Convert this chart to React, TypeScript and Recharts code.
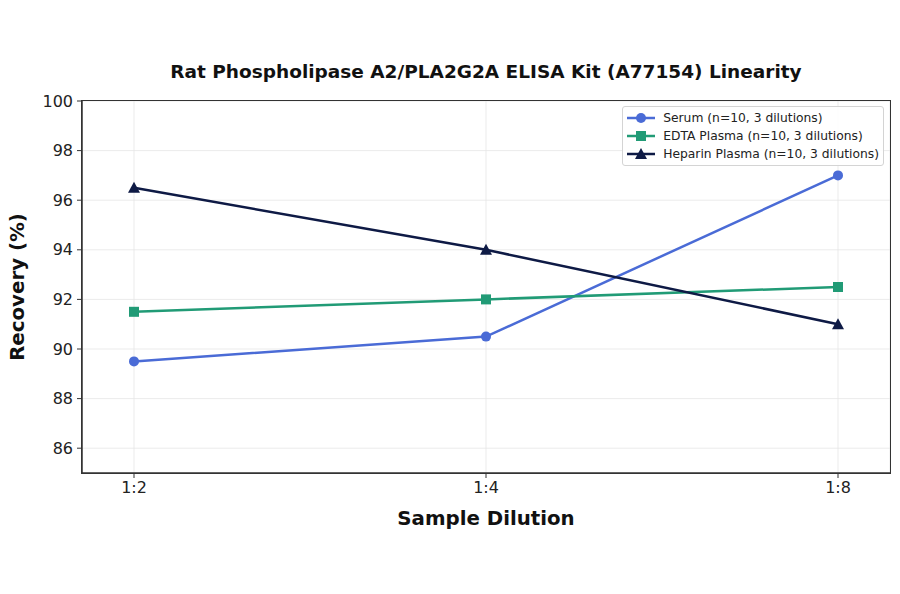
import { LineChart, Line, XAxis, YAxis, CartesianGrid } from 'recharts'

const dilutions = ['1:2', '1:4', '1:8']
const serum = [89.5, 90.5, 97]
const edtaPlasma = [91.5, 92, 92.5]
const heparinPlasma = [96.5, 94, 91]
const yTicks = [86, 88, 90, 92, 94, 96, 98, 100]

const seriesNames = [
  'Serum (n=10, 3 dilutions)',
  'EDTA Plasma (n=10, 3 dilutions)',
  'Heparin Plasma (n=10, 3 dilutions)',
]
const colors = ['#4a6bd6', '#219b76', '#0e1a45']
const FONT = '"DejaVu Sans", sans-serif'

const data = dilutions.map((d, i) => ({
  name: d,
  serum: serum[i],
  edta: edtaPlasma[i],
  heparin: heparinPlasma[i],
}))

// plot area, matched to the reference frame
const PLOT = { left: 82, top: 101, right: 890, bottom: 473 }

function Marker({ kind, color, x, y }: { kind: number; color: string; x: number; y: number }) {
  if (kind === 0) return <circle cx={x} cy={y} r={5} fill={color} />
  if (kind === 1) return <rect x={x - 5} y={y - 5} width={10} height={10} fill={color} />
  return <polygon points={`${x},${y - 6} ${x + 6},${y + 5} ${x - 6},${y + 5}`} fill={color} />
}

const dotFor = (kind: number) => (props: any) => (
  <Marker key={props.index} kind={kind} color={colors[kind]} x={props.cx} y={props.cy} />
)

function LegendBox() {
  return (
    <div
      style={{
        position: 'absolute',
        top: 106,
        right: 16,
        border: '1px solid #d4d4d4',
        borderRadius: 3,
        background: 'rgba(255,255,255,0.85)',
        padding: '2px 4px 2px 3px',
        fontFamily: FONT,
        fontSize: 12.3,
        color: '#222',
      }}
    >
      {seriesNames.map((n, i) => (
        <div key={n} style={{ display: 'flex', alignItems: 'center', height: 18 }}>
          <svg width={30} height={14} style={{ marginRight: 7 }}>
            <line x1={1} y1={7} x2={29} y2={7} stroke={colors[i]} strokeWidth={2.5} />
            <Marker kind={i} color={colors[i]} x={15} y={7} />
          </svg>
          <span>{n}</span>
        </div>
      ))}
    </div>
  )
}

export default function App() {
  const axisTick = { fontSize: 16, fill: '#222', fontFamily: FONT }
  const label = {
    position: 'absolute' as const,
    fontFamily: FONT,
    fontWeight: 'bold' as const,
    color: '#111',
    whiteSpace: 'nowrap' as const,
  }
  return (
    <div style={{ position: 'relative', width: 900, height: 594, background: '#fff' }}>
      <style>{'body{margin:0}'}</style>
      <div style={{ ...label, left: PLOT.left, width: PLOT.right - PLOT.left, top: 61, textAlign: 'center', fontSize: 18.5 }}>
        Rat Phospholipase A2/PLA2G2A ELISA Kit (A77154) Linearity
      </div>
      <div style={{ ...label, left: PLOT.left, width: PLOT.right - PLOT.left, top: 507, textAlign: 'center', fontSize: 19.8 }}>
        Sample Dilution
      </div>
      <div style={{ ...label, left: 17, top: 287, transform: 'translate(-50%, -50%) rotate(-90deg)', fontSize: 19.8 }}>
        Recovery (%)
      </div>
      <LineChart
        width={900}
        height={594}
        data={data}
        margin={{ top: PLOT.top, right: 900 - PLOT.right, bottom: 0, left: 0 }}
      >
        <CartesianGrid stroke="#e6e6e6" strokeWidth={0.8} />
        <XAxis
          dataKey="name"
          padding={{ left: 52, right: 52 }}
          height={594 - PLOT.bottom}
          tick={axisTick}
          tickSize={5}
          tickMargin={4}
          axisLine={{ stroke: '#333', strokeWidth: 1.5 }}
          tickLine={{ stroke: '#333' }}
        />
        <YAxis
          domain={[85, 100]}
          ticks={yTicks}
          width={PLOT.left}
          tick={axisTick}
          tickSize={5}
          tickMargin={4}
          axisLine={{ stroke: '#333', strokeWidth: 1.5 }}
          tickLine={{ stroke: '#333' }}
        />
        <Line
          dataKey="serum"
          stroke={colors[0]}
          strokeWidth={2.5}
          dot={dotFor(0)}
          activeDot={false}
          isAnimationActive={false}
        />
        <Line
          dataKey="edta"
          stroke={colors[1]}
          strokeWidth={2.5}
          dot={dotFor(1)}
          activeDot={false}
          isAnimationActive={false}
        />
        <Line
          dataKey="heparin"
          stroke={colors[2]}
          strokeWidth={2.5}
          dot={dotFor(2)}
          activeDot={false}
          isAnimationActive={false}
        />
      </LineChart>
      {/* frame around the plot area */}
      <div
        style={{
          position: 'absolute',
          left: PLOT.left - 0.75,
          top: PLOT.top - 0.75,
          width: PLOT.right - PLOT.left,
          height: PLOT.bottom - PLOT.top,
          border: '1.5px solid #333',
          pointerEvents: 'none',
        }}
      />
      <LegendBox />
    </div>
  )
}
